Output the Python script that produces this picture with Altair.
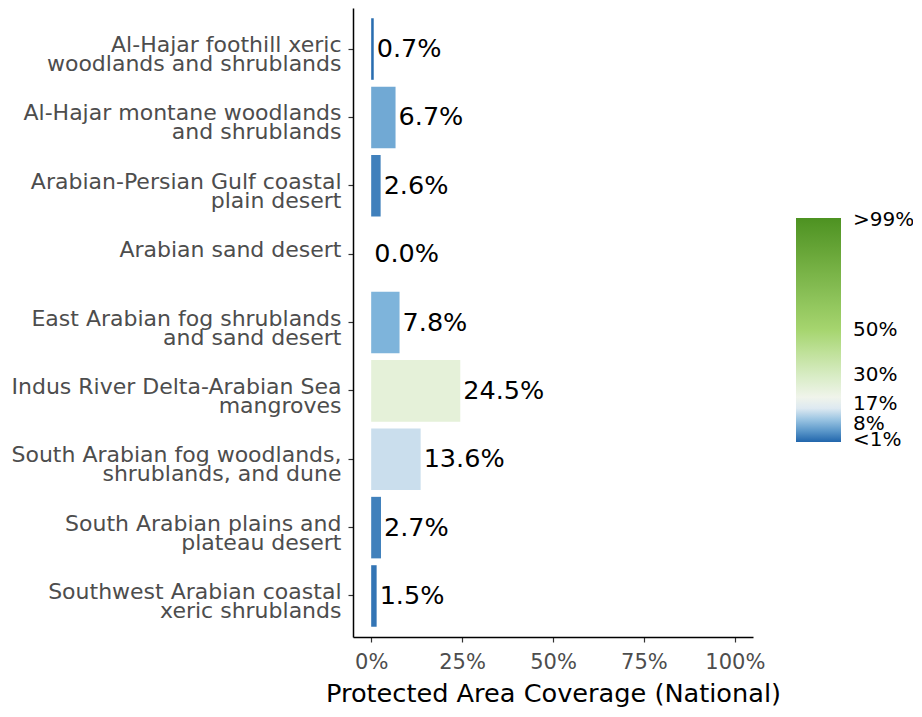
import altair as alt
import pandas as pd

ecoregions = [
    "Al-Hajar foothill xeric\nwoodlands and shrublands",
    "Al-Hajar montane woodlands\nand shrublands",
    "Arabian-Persian Gulf coastal\nplain desert",
    "Arabian sand desert",
    "East Arabian fog shrublands\nand sand desert",
    "Indus River Delta-Arabian Sea\nmangroves",
    "South Arabian fog woodlands,\nshrublands, and dune",
    "South Arabian plains and\nplateau desert",
    "Southwest Arabian coastal\nxeric shrublands",
]
coverage = [0.7, 6.7, 2.6, 0.0, 7.8, 24.5, 13.6, 2.7, 1.5]

color_stops = [0, 8, 17, 30, 50, 100]
color_range = ["#2166ac", "#80b6dc", "#f7f7f7", "#d7ecc3", "#a6d56f", "#4d9221"]
legend_values = [1, 8, 17, 30, 50, 99]
x_ticks = [0, 25, 50, 75, 100]

df = pd.DataFrame({"eco": ecoregions, "pct": coverage})

FONT = "DejaVu Sans"

y_enc = alt.Y(
    "eco:N",
    sort=ecoregions,
    title=None,
    scale=alt.Scale(paddingInner=0.1, paddingOuter=0.15),
    axis=alt.Axis(
        labelExpr="split(datum.label, '\\n')",
        labelFont=FONT,
        labelFontSize=22,
        labelColor="#4d4d4d",
        labelLineHeight=19,
        labelPadding=7,
        labelOffset=-4,
        tickSize=5,
        tickColor="#333333",
        tickWidth=1.2,
        domainColor="#000000",
        domainWidth=1.5,
        labelLimit=400,
    ),
)

x_enc = alt.X(
    "pct:Q",
    title="Protected Area Coverage (National)",
    scale=alt.Scale(domain=[-5, 105], nice=False, zero=False),
    axis=alt.Axis(
        values=x_ticks,
        labelExpr="datum.value + '%'",
        labelFont=FONT,
        labelFontSize=21,
        labelColor="#4d4d4d",
        labelPadding=9,
        tickSize=5,
        tickColor="#333333",
        tickWidth=1.2,
        domainColor="#000000",
        domainWidth=1.5,
        titleFont=FONT,
        titleFontSize=25.6,
        titleFontWeight="normal",
        titleColor="#000000",
        titlePadding=9,
        grid=False,
    ),
)

bars = alt.Chart(df).mark_bar().encode(
    y=y_enc,
    x=x_enc,
    x2=alt.datum(0),
    color=alt.Color(
        "pct:Q",
        scale=alt.Scale(domain=color_stops, range=color_range, interpolate="rgb"),
        legend=alt.Legend(
            title=None,
            orient="none",
            legendX=443,
            legendY=210,
            values=legend_values,
            labelExpr="datum.value == 1 ? '<1%' : datum.value == 99 ? '>99%' : datum.value + '%'",
            gradientLength=224,
            gradientThickness=45,
            gradientStrokeWidth=0,
            labelFont=FONT,
            labelFontSize=20,
            labelColor="#000000",
            labelOffset=12,
            labelOverlap=False,
        ),
    ),
)

labels = alt.Chart(df).transform_calculate(
    lab="format(datum.pct, '.1f') + '%'"
).mark_text(
    align="left", baseline="middle", dx=3, font=FONT, fontSize=25.5, color="#000000"
).encode(
    y=alt.Y("eco:N", sort=ecoregions),
    x=alt.X("pct:Q"),
    text="lab:N",
)

chart = alt.layer(bars, labels).properties(
    width=400,
    height=629,
    autosize=alt.AutoSizeParams(type="none"),
    padding={"left": 345, "top": 0, "right": 160, "bottom": 72},
).configure_view(stroke=None)

chart.save("out.html", embed_options={"renderer": "svg", "actions": False})
